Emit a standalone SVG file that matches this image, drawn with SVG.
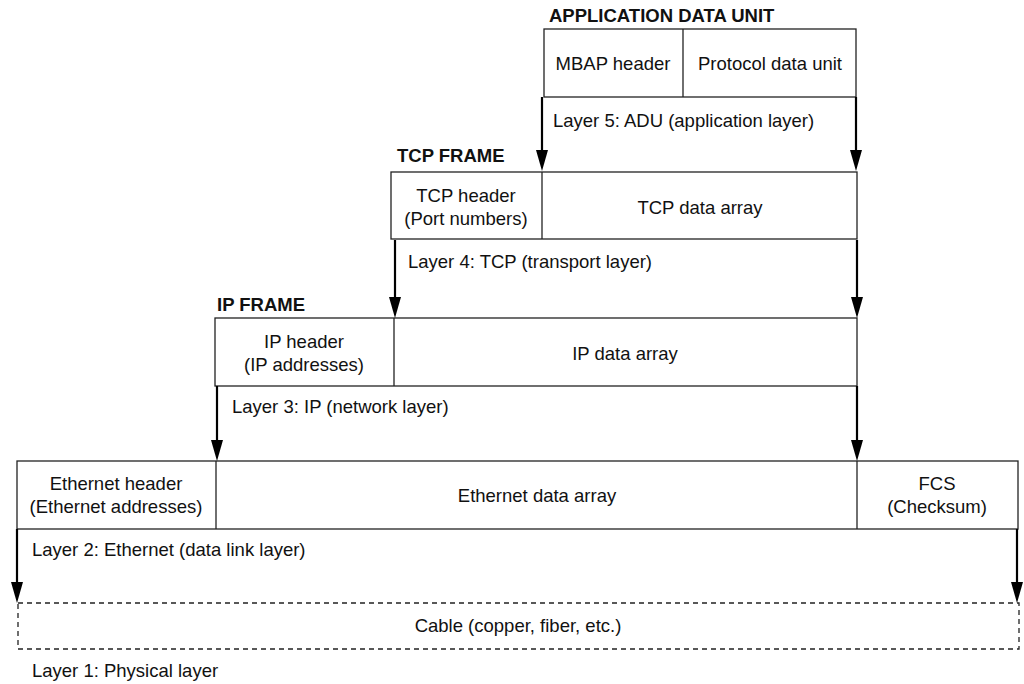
<svg xmlns="http://www.w3.org/2000/svg" width="1024" height="684" viewBox="0 0 1024 684">
<defs>
<style>
text{font-family:"Liberation Sans",Arial,sans-serif;font-size:18.5px;fill:#111}
.b{font-weight:bold}
.m{text-anchor:middle}
.box{fill:none;stroke:#222;stroke-width:1.3}
.dash{fill:none;stroke:#222;stroke-width:1.3;stroke-dasharray:5 4}
.arr{stroke:#000;stroke-width:2.2;fill:none;marker-end:url(#ah)}
</style>
<marker id="ah" markerUnits="userSpaceOnUse" markerWidth="14" markerHeight="22" refX="6" refY="20" orient="auto" viewBox="0 0 12 20">
<path d="M0,0 L12,0 L6,20 Z" fill="#000" transform="rotate(-90 6 10) translate(0 0)"/>
</marker>
<marker id="ah2" markerUnits="userSpaceOnUse" markerWidth="22" markerHeight="14" refX="20" refY="6" orient="auto" viewBox="0 0 20 12">
<path d="M0,0 L20,6 L0,12 Z" fill="#000"/>
</marker>
</defs>
<rect width="1024" height="684" fill="#fff"/>

<g id="adu">
<text class="b" x="549" y="22">APPLICATION DATA UNIT</text>
<rect class="box" x="544" y="29" width="312" height="68"/>
<line class="box" x1="683" y1="29" x2="683" y2="97"/>
<text class="m" x="613" y="70">MBAP header</text>
<text class="m" x="770" y="70">Protocol data unit</text>
<text x="553" y="127">Layer 5: ADU (application layer)</text>
</g>

<g id="tcp">
<text class="b" x="397" y="162">TCP FRAME</text>
<rect class="box" x="391" y="172" width="466" height="67"/>
<line class="box" x1="542" y1="172" x2="542" y2="239"/>
<text class="m" x="466" y="202">TCP header</text>
<text class="m" x="466" y="225">(Port numbers)</text>
<text class="m" x="700" y="214">TCP data array</text>
<text x="408" y="268">Layer 4: TCP (transport layer)</text>
</g>

<g id="ip">
<text class="b" x="217" y="311">IP FRAME</text>
<rect class="box" x="215" y="318" width="642" height="68"/>
<line class="box" x1="394" y1="318" x2="394" y2="386"/>
<text class="m" x="304" y="348">IP header</text>
<text class="m" x="304" y="371">(IP addresses)</text>
<text class="m" x="625" y="360">IP data array</text>
<text x="232" y="413">Layer 3: IP (network layer)</text>
</g>

<g id="ethernet">
<rect class="box" x="17" y="461" width="1001" height="68"/>
<line class="box" x1="216" y1="461" x2="216" y2="529"/>
<line class="box" x1="857" y1="461" x2="857" y2="529"/>
<text class="m" x="116" y="490">Ethernet header</text>
<text class="m" x="116" y="513">(Ethernet addresses)</text>
<text class="m" x="537" y="502">Ethernet data array</text>
<text class="m" x="937" y="490">FCS</text>
<text class="m" x="937" y="513">(Checksum)</text>
<text x="32" y="556">Layer 2: Ethernet (data link layer)</text>
</g>

<g id="physical">
<rect class="dash" x="18" y="603" width="1001" height="46"/>
<text class="m" x="518" y="632">Cable (copper, fiber, etc.)</text>
<text x="32" y="677">Layer 1: Physical layer</text>
</g>

<g id="connectors" stroke="#000" stroke-width="2.2">
<line x1="542" y1="97" x2="542" y2="152"/>
<polygon points="536,150 548,150 542,171" fill="#000" stroke="none"/>
<line x1="856" y1="97" x2="856" y2="152"/>
<polygon points="850,150 862,150 856,171" fill="#000" stroke="none"/>
<line x1="395" y1="240" x2="395" y2="299"/>
<polygon points="389,297 401,297 395,318" fill="#000" stroke="none"/>
<line x1="857" y1="240" x2="857" y2="299"/>
<polygon points="851,297 863,297 857,318" fill="#000" stroke="none"/>
<line x1="217" y1="386" x2="217" y2="442"/>
<polygon points="211,440 223,440 217,461" fill="#000" stroke="none"/>
<line x1="857" y1="386" x2="857" y2="442"/>
<polygon points="851,440 863,440 857,461" fill="#000" stroke="none"/>
<line x1="17" y1="529" x2="17" y2="584"/>
<polygon points="11,582 23,582 17,603" fill="#000" stroke="none"/>
<line x1="1017" y1="529" x2="1017" y2="584"/>
<polygon points="1011,582 1023,582 1017,603" fill="#000" stroke="none"/>
</g>
</svg>
